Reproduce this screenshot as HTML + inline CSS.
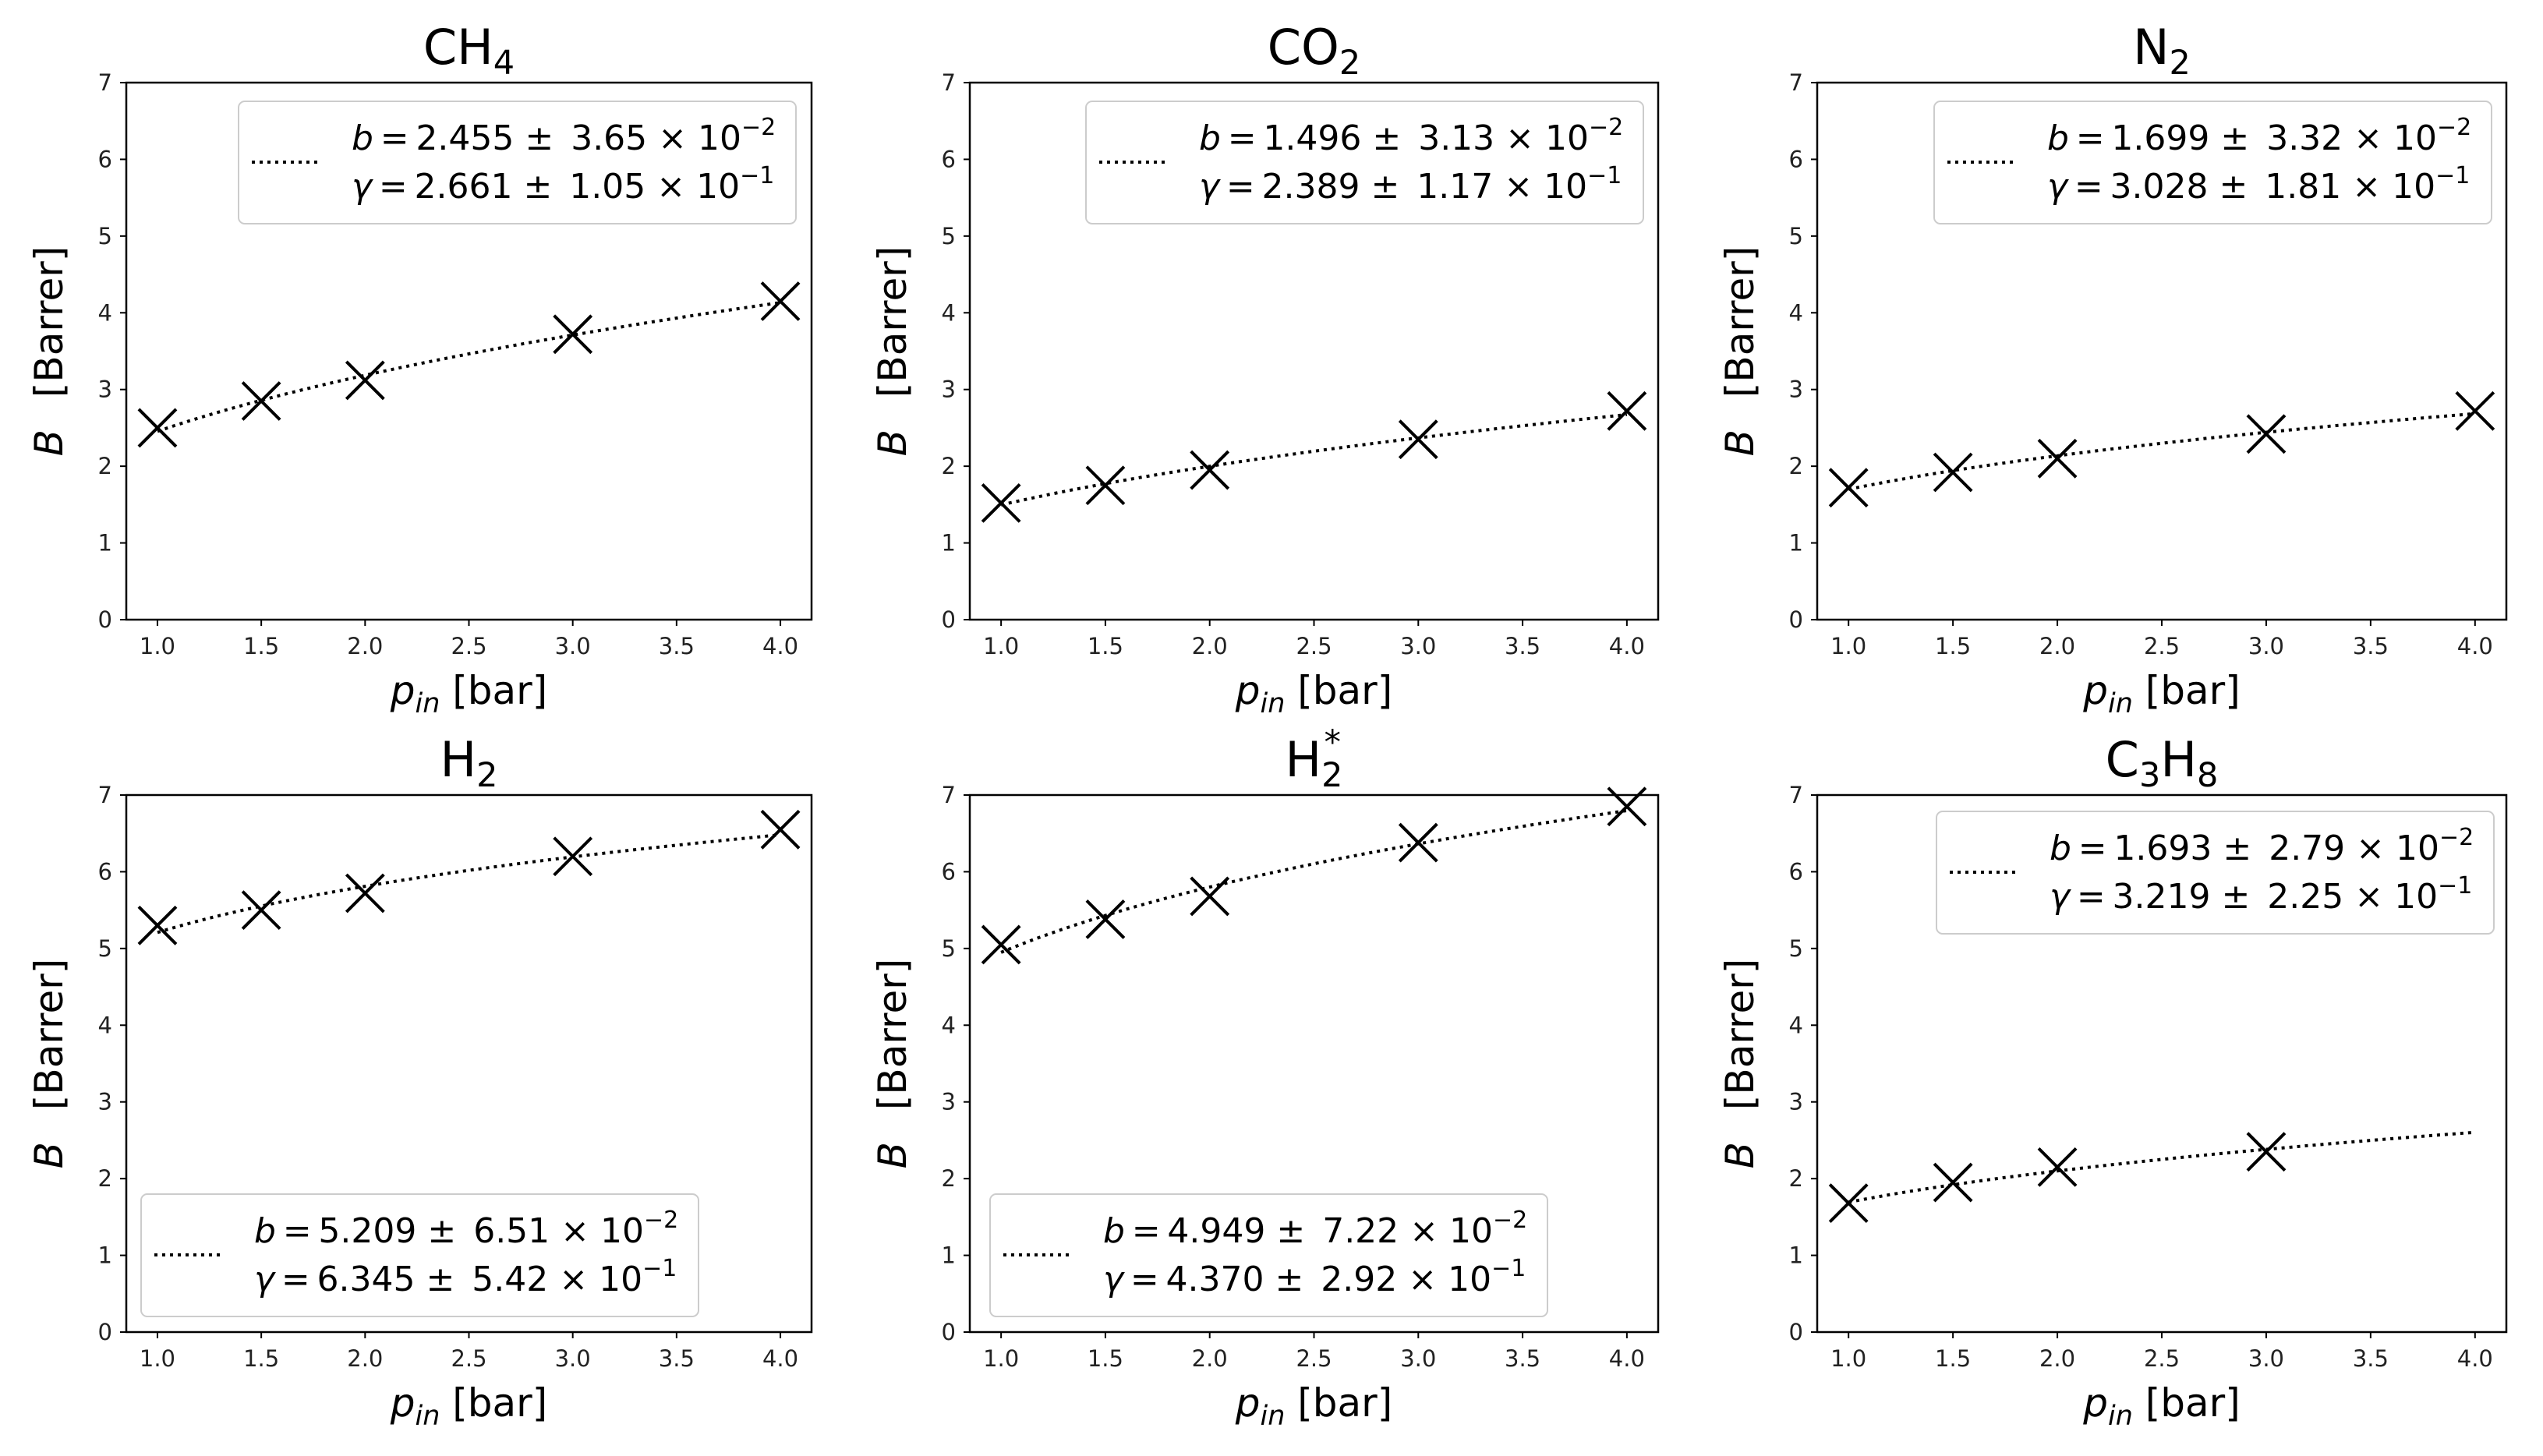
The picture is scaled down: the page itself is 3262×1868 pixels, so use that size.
<!DOCTYPE html>
<html><head><meta charset="utf-8"><style>
body{margin:0;background:#fff}
svg{display:block;font-family:"DejaVu Sans","Liberation Sans",sans-serif}
</style></head><body>
<svg id="fig" width="3262" height="1868" viewBox="0 0 3262 1868" xmlns="http://www.w3.org/2000/svg"></svg>
<script>
const xValues=[1.0,1.5,2.0,3.0,4.0];
const ch4Values=[2.5,2.85,3.12,3.72,4.15];
const co2Values=[1.52,1.75,1.95,2.35,2.72];
const n2Values=[1.72,1.92,2.1,2.42,2.72];
const h2Values=[5.3,5.5,5.72,6.2,6.55];
const h2sValues=[5.05,5.38,5.68,6.38,6.85];
const c3h8Values=[1.68,1.95,2.15,2.35];
const fitB=[2.455,1.496,1.699,5.209,4.949,1.693];
const fitG=[2.661,2.389,3.028,6.345,4.370,3.219];
const bErr=["3.65","3.13","3.32","6.51","7.22","2.79"];
const bExp=["−2","−2","−2","−2","−2","−2"];
const gErr=["1.05","1.17","1.81","5.42","2.92","2.25"];
const gExp=["−1","−1","−1","−1","−1","−1"];
const xTicks=[1.0,1.5,2.0,2.5,3.0,3.5,4.0];
const yTicks=[0,1,2,3,4,5,6,7];
const series=[ch4Values,co2Values,n2Values,h2Values,h2sValues,c3h8Values];
const titles=['ch4','co2','n2','h2','h2s','c3h8'];
const NS='http://www.w3.org/2000/svg';
const svg=document.getElementById('fig');
function mk(tag,attrs,parent){const e=document.createElementNS(NS,tag);for(const k in attrs)e.setAttribute(k,attrs[k]);(parent||svg).appendChild(e);return e;}
const cols=[[162,1041],[1244,2127],[2331,3215]];
const rows=[[106,795],[1020,1709]];
const legendPos=[[306,130],[1393,130],[2481,130],[181,1532],[1270,1532],[2484,1041]];
function titleText(g,i,x,y){
  const t=mk('text',{x:x,y:y,'text-anchor':'middle','font-size':62,fill:'#000'},g);
  
  
  const parts={ch4:[['CH',0],['4',1]],co2:[['CO',0],['2',1]],n2:[['N',0],['2',1]],h2:[['H',0],['2',1]],h2s:[['H',0],['2',1],['*',2]],c3h8:[['C',0],['3',1],['H',0],['8',1]]}[titles[i]];
  let prev=0;
  parts.forEach(([s,m])=>{
    const sp=mk('tspan',{},t);sp.textContent=s;
    if(m===1){sp.setAttribute('font-size',43);sp.setAttribute('dy',prev===1?0:13);prev=1;}
    else if(m===2){sp.setAttribute('font-size',43);sp.setAttribute('dx',-24);sp.setAttribute('dy',-42);prev=2;}
    else{sp.setAttribute('dy',prev===1?-13:0);prev=0;}
  });
}
for(let i=0;i<6;i++){
  const [L,R]=cols[i%3],[T,B]=rows[Math.floor(i/3)];
  const g=mk('g',{});
  
  
  const X=v=>L+(v-0.85)/(3.3)*(R-L);
  const Y=v=>B-v/7*(B-T);
  xTicks.forEach(v=>{
    mk('line',{x1:X(v),x2:X(v),y1:B,y2:B+8,stroke:'#000','stroke-width':2},g);
    const t=mk('text',{x:X(v),y:B+44,'text-anchor':'middle','font-size':29,fill:'#222'},g);
    
    
    t.textContent=v.toFixed(1);
  });
  yTicks.forEach(v=>{
    mk('line',{x1:L-8,x2:L,y1:Y(v),y2:Y(v),stroke:'#000','stroke-width':2},g);
    const t=mk('text',{x:L-18,y:Y(v)+10,'text-anchor':'end','font-size':29,fill:'#222'},g);
    
    
    t.textContent=v;
  });
  let d='';
  for(let k=0;k<=60;k++){const p=1+3*k/60;const v=fitB[i]*Math.pow(p,1/fitG[i]);d+=(k?'L':'M')+X(p).toFixed(1)+','+Y(v).toFixed(1);}
  const fl=mk('path',{d:d,fill:'none',stroke:'#000','stroke-width':4,'stroke-dasharray':'4,6'},g);
  
  
  series[i].forEach((v,k)=>{
    const cx=X(xValues[k]),cy=Y(v),s=24;
    const m=mk('path',{d:`M${cx-s},${cy-s}L${cx+s},${cy+s}M${cx-s},${cy+s}L${cx+s},${cy-s}`,stroke:'#000','stroke-width':4,fill:'none'},g);
    
    
  });
  const fr=mk('rect',{x:L,y:T,width:R-L,height:B-T,fill:'none',stroke:'#000','stroke-width':2.5},g);
  
  
  const [lx,ly]=legendPos[i];
  const lg=mk('g',{},g);
  
  
  mk('rect',{x:lx,y:ly,width:715,height:157,rx:8,fill:'#fff','fill-opacity':0.85,stroke:'#ccc','stroke-width':2},lg);
  mk('line',{x1:lx+17,x2:lx+105,y1:ly+78,y2:ly+78,stroke:'#000','stroke-width':4,'stroke-dasharray':'4,6'},lg);
  const lines=[['b',fitB[i].toFixed(3),bErr[i],bExp[i],ly+62],['γ',fitG[i].toFixed(3),gErr[i],gExp[i],ly+124]];
  lines.forEach(([sym,val,err,ex,yy])=>{
    const t=mk('text',{x:lx+145,y:yy,'font-size':44,fill:'#000'},lg);
    
    
    const a=mk('tspan',{'font-style':'italic'},t);a.textContent=sym;
    const b=mk('tspan',{},t);b.textContent='\u2009=\u2009'+val+' ±\u2002'+err+' × 10';
    const c=mk('tspan',{'font-size':30,dy:-19},t);c.textContent=ex;
  });
  const xl=mk('text',{x:(L+R)/2,y:B+108,'text-anchor':'middle','font-size':50,fill:'#000'},g);
  
  
  const p1=mk('tspan',{'font-style':'italic'},xl);p1.textContent='p';
  const p2=mk('tspan',{'font-style':'italic','font-size':35,dy:11},xl);p2.textContent='in';
  const p3=mk('tspan',{dy:-11},xl);p3.textContent=' [bar]';
  const yl=mk('text',{x:0,y:0,'text-anchor':'middle','font-size':50,fill:'#000',transform:`translate(${L-82},${(T+B)/2}) rotate(-90)`},g);
  
  
  const q1=mk('tspan',{'font-style':'italic'},yl);q1.textContent='B';
  const q2=mk('tspan',{},yl);q2.textContent='\u2002 [Barrer]';
  titleText(g,i,(L+R)/2,T-24);
}
</script>
</body></html>
